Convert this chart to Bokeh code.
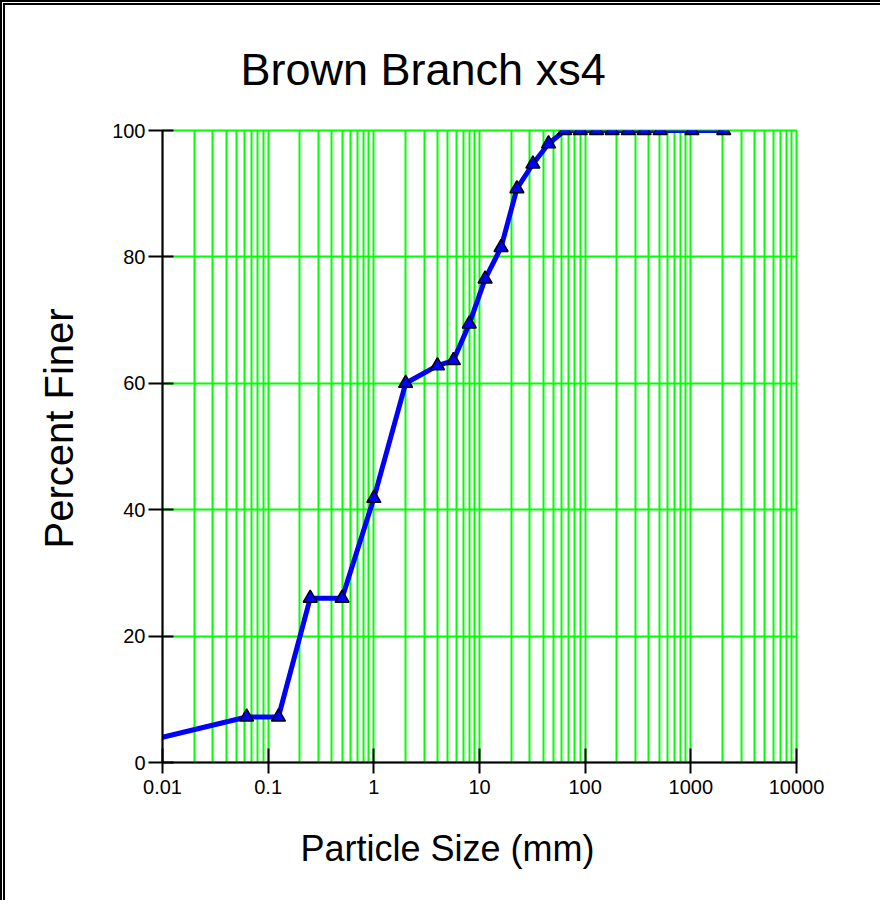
import numpy as np
from bokeh.plotting import figure
from bokeh.models import FixedTicker, CustomJSTickFormatter, Title, ColumnDataSource
from bokeh.embed import file_html
from bokeh.resources import INLINE

# ---- data ----
title_text = "Brown Branch xs4"
x_label_text = "Particle Size (mm)"
y_label_text = "Percent Finer"

particle_size = [0.01, 0.0625, 0.125, 0.25, 0.5, 1, 2, 4, 5.66, 8, 11.3, 16, 22.6,
                 32, 45, 64, 90, 128, 180, 256, 362, 512, 1024, 2048]
percent_finer = [4.0, 7.2, 7.2, 26.0, 26.0, 41.8, 60.0, 62.8, 63.6, 69.4, 76.5, 81.5, 90.8,
                 94.7, 97.9, 100, 100, 100, 100, 100, 100, 100, 100, 100]

x_ticks = [0.01, 0.1, 1, 10, 100, 1000, 10000]
x_tick_labels = ["0.01", "0.1", "1", "10", "100", "1000", "10000"]
y_ticks = [0, 20, 40, 60, 80, 100]

# ---- figure ----
BORDER = 5
W, H = 885 - BORDER, 905 - BORDER
frame_left, frame_top, frame_right, frame_bottom = 162, 130, 796, 762

p = figure(width=W, height=H, x_axis_type="log", x_range=(0.01, 10000), y_range=(0, 100),
           output_backend="svg", toolbar_location=None,
           min_border_left=frame_left - BORDER, min_border_top=frame_top - BORDER,
           min_border_right=885 - frame_right, min_border_bottom=905 - frame_bottom)
p.styles = {"border-left": f"{BORDER}px double black", "border-top": f"{BORDER}px double black"}
p.outline_line_color = "#00FF00"
p.outline_line_width = 2
p.background_fill_color = "white"
p.border_fill_color = "white"

minor = [m * 10.0 ** e for e in range(-2, 4) for m in range(2, 10)]
p.xaxis.ticker = FixedTicker(ticks=x_ticks, minor_ticks=minor)
p.yaxis.ticker = FixedTicker(ticks=y_ticks)
p.xaxis.formatter = CustomJSTickFormatter(
    args=dict(tvals=x_ticks, tlabels=x_tick_labels),
    code="""
    for (let i = 0; i < tvals.length; i++) {
        if (Math.abs(Math.log10(tvals[i]) - Math.log10(tick)) < 1e-6) return tlabels[i];
    }
    return "";
    """)

for ax in (p.xaxis, p.yaxis):
    ax.axis_line_color = "black"
    ax.axis_line_width = 2
    ax.major_tick_line_color = "black"
    ax.major_tick_line_width = 2
    ax.minor_tick_line_color = None
    ax.major_label_text_font = "Liberation Sans"
    ax.major_label_text_font_size = "20px"
    ax.major_label_text_color = "black"
p.xaxis.major_tick_in = 14
p.xaxis.major_tick_out = 11
p.yaxis.major_tick_in = 11
p.yaxis.major_tick_out = 14
p.xaxis.major_label_standoff = 6
p.yaxis.major_label_standoff = 3

p.xgrid.grid_line_color = "#00FF00"
p.xgrid.grid_line_width = 2
p.xgrid.minor_grid_line_color = "#00FF00"
p.xgrid.minor_grid_line_width = 2
p.ygrid.grid_line_color = "#00FF00"
p.ygrid.grid_line_width = 2

src = ColumnDataSource(dict(x=particle_size, y=percent_finer))
mk = ColumnDataSource(dict(x=particle_size[1:], y=percent_finer[1:]))
p.line("x", "y", source=src, line_color="#0000FF", line_width=5)
p.scatter("x", "y", source=mk, marker="triangle", size=14, fill_color="#0000FF",
          line_color="black", line_width=1.5)

# ---- titles as side panels ----
p.title = Title(text=title_text, text_font="Liberation Sans", text_font_size="45px",
                text_font_style="normal", text_color="black", align="left",
                vertical_align="top", offset=240 - frame_left, standoff=67)
p.add_layout(Title(text=x_label_text, text_font="Liberation Sans", text_font_size="36px",
                   text_font_style="normal", text_color="black", align="left",
                   offset=300 - frame_left, standoff=58), "below")
p.add_layout(Title(text=y_label_text, text_font="Liberation Sans", text_font_size="40px",
                   text_font_style="normal", text_color="black", align="left",
                   offset=frame_bottom - 548, standoff=58), "left")

open("out.html", "w").write(file_html(p, INLINE))
